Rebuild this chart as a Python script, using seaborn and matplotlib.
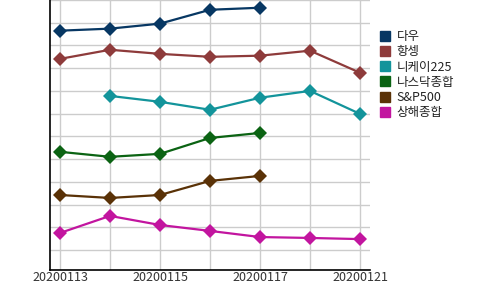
import matplotlib
matplotlib.use("Agg")
import matplotlib.pyplot as plt
from matplotlib.lines import Line2D
import seaborn as sns
import numpy as np
import pandas as pd

dates = ["20200113", "20200114", "20200115", "20200116", "20200117", "20200120", "20200121"]
tick_labels = ["20200113", "", "20200115", "", "20200117", "", "20200121"]
names = ["다우", "항셍", "니케이225", "나스닥종합", "S&P500", "상해종합"]
nan = np.nan
dow = [9.65, 9.74, 9.96, 10.57, 10.66, nan, nan]
hangseng = [8.41, 8.81, 8.63, 8.50, 8.55, 8.77, 7.80]
nikkei = [nan, 6.78, 6.52, 6.17, 6.70, 7.00, 5.99]
nasdaq = [4.32, 4.10, 4.23, 4.93, 5.15, nan, nan]
sp500 = [2.42, 2.29, 2.42, 3.04, 3.26, nan, nan]
shanghai = [0.75, 1.50, 1.10, 0.84, 0.57, 0.53, 0.48]
series = [dow, hangseng, nikkei, nasdaq, sp500, shanghai]
colors = ["#073763", "#8e3b3b", "#13949b", "#0b6313", "#5a3207", "#c2159f"]

sns.set_style("white")
plt.rcParams["font.family"] = ["Noto Sans CJK KR", "DejaVu Sans"]

fig = plt.figure(figsize=(5, 2.9), dpi=100)
ax = fig.add_axes([0.1, 20 / 290, 0.64, 270 / 290])

xpos = np.arange(len(dates))
for name, vals, c in zip(names, series, colors):
    df = pd.DataFrame({"x": xpos, "y": vals}).dropna()
    sns.lineplot(data=df, x="x", y="y", ax=ax, color=c, marker="D",
                 markersize=7, markeredgewidth=0, linewidth=1.6, legend=False)

ax.set_xlim(-0.2, 6.2)
ax.set_ylim(-0.88, 11.0)
ax.set_xticks(xpos)
ax.set_xticklabels(tick_labels, fontsize=9, color="#333333")
ax.set_yticks(np.arange(0, 12))
ax.set_yticklabels([])
ax.tick_params(axis="both", length=0, pad=1)
ax.grid(True, color="#cccccc", linewidth=1)
ax.set_axisbelow(True)
ax.set_xlabel("")
ax.set_ylabel("")
for s in ["top", "right"]:
    ax.spines[s].set_visible(False)
for s in ["left", "bottom"]:
    ax.spines[s].set_color("black")
    ax.spines[s].set_linewidth(1.2)

handles = [Line2D([], [], marker="s", linestyle="none", color=c, markersize=7) for c in colors]
fig.legend(handles, names, loc="upper left", bbox_to_anchor=(374 / 500, 1 - 25 / 290),
           frameon=False, fontsize=9, handlelength=1.0, handletextpad=0.4,
           labelspacing=0.18, borderaxespad=0, labelcolor="#222222")

fig.savefig("out.png", dpi=100)
